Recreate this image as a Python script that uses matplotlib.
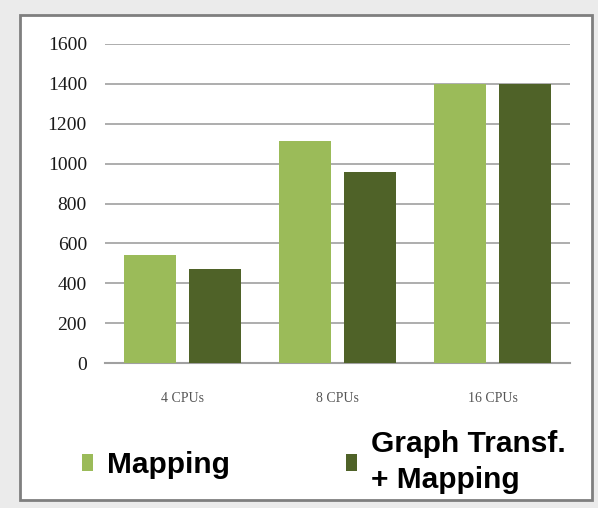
import matplotlib.pyplot as plt
import numpy as np
from matplotlib.patches import Rectangle

# run times per CPU count
categories = ['4 CPUs', '8 CPUs', '16 CPUs']
mapping = [540, 1115, 1400]
transf_mapping = [470, 960, 1400]
series_names = ['Mapping', 'Graph Transf.\n+ Mapping']
yticks = [0, 200, 400, 600, 800, 1000, 1200, 1400, 1600]

light_green = '#9bbb59'
dark_green = '#4f6228'

fig = plt.figure(figsize=(5.98, 5.08), dpi=100)
fig.patch.set_facecolor('#ebebeb')

# white panel with a gray frame around the chart
fig.patches.append(Rectangle((20 / 598, 1 - 500 / 508), 572 / 598, 485 / 508,
                             transform=fig.transFigure, facecolor='white',
                             edgecolor='#7f7f7f', lw=2, zorder=-1))

ax = fig.add_axes([105 / 598, 1 - 363 / 508, 465 / 598, 319 / 508])
ax.set_facecolor('none')

x = np.arange(len(categories))
w = 0.335
off = 0.21
b1 = ax.bar(x - off, mapping, w, color=light_green, zorder=3)
b2 = ax.bar(x + off, transf_mapping, w, color=dark_green, zorder=3)

ax.set_xlim(-0.5, 2.5)
ax.set_ylim(0, 1600)
ax.set_yticks(yticks)
ax.set_xticks(x)
ax.set_xticklabels(categories)
ax.yaxis.grid(True, color='#a0a0a0', lw=1.2, zorder=0)

for s in ['top', 'right', 'left']:
    ax.spines[s].set_visible(False)
ax.spines['bottom'].set_color('#a0a0a0')
ax.spines['bottom'].set_linewidth(1.5)

ax.tick_params(axis='y', length=0, pad=13, labelsize=14, labelcolor='#1a1a1a')
ax.tick_params(axis='x', length=0, pad=21, labelsize=10, labelcolor='#555555')
for lab in ax.get_yticklabels() + ax.get_xticklabels():
    lab.set_family('Liberation Serif')

leg = fig.legend([b1, b2], series_names, ncol=2, frameon=False,
                 loc='center left', bbox_to_anchor=(82 / 598, 1 - 462 / 508),
                 prop={'family': 'Liberation Sans', 'weight': 'bold', 'size': 21.5},
                 handlelength=0.37, handleheight=0.5, handletextpad=0.47,
                 columnspacing=3.9, borderpad=0, borderaxespad=0)
for t in leg.get_texts():
    t.set_linespacing(1.4)

plt.savefig('out.png', dpi=100, facecolor=fig.get_facecolor())
